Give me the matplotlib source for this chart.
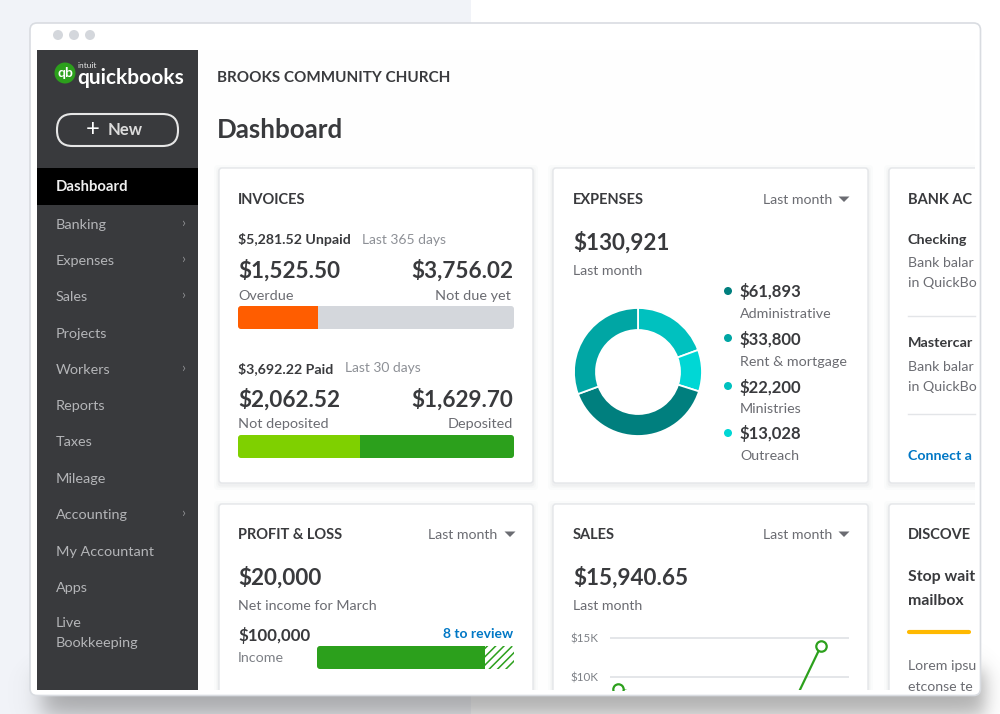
import numpy as np
import matplotlib
matplotlib.use("Agg")
import matplotlib.pyplot as plt
from matplotlib.patches import FancyBboxPatch, Rectangle, Circle, Polygon

plt.rcParams['font.family'] = ['Lato', 'DejaVu Sans']
plt.rcParams['hatch.linewidth'] = 1.1

# ---- data ----
nav_items = ["Banking", "Expenses", "Sales", "Projects", "Workers", "Reports", "Taxes",
             "Mileage", "Accounting", "My Accountant", "Apps"]
nav_with_arrow = ["Banking", "Expenses", "Sales", "Workers", "Accounting"]

unpaid_labels = ["Overdue", "Not due yet"]
unpaid_values = [1525.50, 3756.02]
paid_labels = ["Not deposited", "Deposited"]
paid_values = [2062.52, 1629.70]
paid_bar_values = [1629.70, 2062.52]      # the picture draws the light segment as the shorter one

expense_labels = ["Administrative", "Rent & mortgage", "Ministries", "Outreach"]
expense_values = ["$61,893", "$33,800", "$22,200", "$13,028"]
# slice shares as drawn, clockwise from 12 o'clock: Ministries, Outreach, Administrative, Rent
donut_shares = [19.4, 10.5, 39.5, 30.6]

income_reviewed = 85.5
income_to_review = 14.5

sales_days = [1, 23, 28.6]
sales_values_k = [8.5, 3.0, 14.0]
sales_ticks_k = [10, 15]
sales_tick_labels = ["$10K", "$15K"]

# ---- colours ----
INK = "#393a3d"
SOFT = "#6b6c72"
TEAL = ["#00c1bf", "#00d7d5", "#007f7e", "#00a6a4"]
LEGEND_TEAL = ["#007f7e", "#00a6a4", "#00c1bf", "#00d7d5"]
GREEN = "#2ca01c"
LIME = "#7fd000"
ORANGE = "#ff5d00"
GREY = "#d4d7dc"
BLUE = "#0077c5"

W, H = 1000, 714
fig = plt.figure(figsize=(10, 7.14), dpi=100, facecolor="white")
bg = fig.add_axes([0, 0, 1, 1])
bg.set_xlim(0, W)
bg.set_ylim(H, 0)
bg.axis("off")


def px_axes(x0, y0, x1, y1, **kw):
    return fig.add_axes([x0 / W, 1 - y1 / H, (x1 - x0) / W, (y1 - y0) / H], **kw)


def T(x, y, s, size=10.4, color=SOFT, weight="normal", ha="left", z=6, **kw):
    return bg.text(x, y + 3, s, fontsize=size, color=color, fontweight=weight, ha=ha,
                   va="center", zorder=z, **kw)


def rbox(x0, y0, x1, y1, r=3, fc="white", ec="none", lw=0, z=2, alpha=None, add=True):
    p = FancyBboxPatch((x0 + r, y0 + r), x1 - x0 - 2 * r, y1 - y0 - 2 * r,
                       boxstyle=f"round,pad={r},rounding_size={r}", fc=fc, ec=ec, lw=lw,
                       zorder=z, alpha=alpha, transform=bg.transData)
    if add:
        bg.add_patch(p)
    return p


# page background and window shadow
bg.add_patch(Rectangle((0, 0), 471, H, fc="#f1f3f8", ec="none", zorder=0))
xx, yy = np.meshgrid(np.arange(W) + .5, np.arange(H) + .5)
sx = .5 * (np.tanh((xx - 42) / 14) - np.tanh((xx - 985) / 11))
sy = .5 * (np.tanh((yy - 670) / 12) - np.tanh((yy - 716) / 14))
shadow = np.zeros((H, W, 4))
shadow[..., :3] = .42
shadow[..., 3] = .55 * sx * sy
bg.imshow(shadow, extent=(0, W, H, 0), zorder=1, aspect="auto", interpolation="bilinear")
bg.set_xlim(0, W)
bg.set_ylim(H, 0)

# browser window
rbox(30, 23, 980.5, 695.5, r=7, fc="white", ec="#d9dce1", lw=1.2, z=2)
for cx in (58, 74, 90):
    bg.add_patch(Circle((cx, 35), 5, fc="#d4d7dc", ec="none", zorder=3))
content = Rectangle((198, 50), 777, 640, fc="#fefefe", ec="none", zorder=2.5)
bg.add_patch(content)

# sidebar
bg.add_patch(Rectangle((37, 50), 161, 640, fc=INK, ec="none", zorder=3))
bg.add_patch(Rectangle((37, 168), 161, 37, fc="black", ec="none", zorder=4))
bg.add_patch(Circle((65, 73), 10.5, fc=GREEN, ec="none", zorder=5))
T(65, 70, "qb", 10, "white", "bold", ha="center")
T(78, 62, "intuit", 6, "#e8e8e8")
T(77, 75, "quickbooks", 15, "white", "bold")
rbox(57, 114, 178, 146, r=15.5, fc="none", ec="#e6e6e6", lw=1.5, z=5)
T(93, 126.5, "+", 17, "white", ha="center")
T(108, 127, "New", 12, "#dcdcdc", "bold")
T(56, 184, "Dashboard", 10.7, "#f0f0f0", "bold")
nav_y = [222, 258, 294, 331, 367, 403, 439, 476, 512, 549, 585]
for label, y in zip(nav_items, nav_y):
    T(56, y, label, 10.4, "#b4b5b8")
    if label in nav_with_arrow:
        T(183, y - 2, "›", 10, "#8d8e91", ha="center")
T(56, 620, "Live", 10.4, "#b4b5b8")
T(56, 640, "Bookkeeping", 10.4, "#b4b5b8")

# header
T(217, 75, "BROOKS COMMUNITY CHURCH", 11, INK, "bold")
T(217, 127, "Dashboard", 18.6, INK, "bold")

# cards, cut off where the content area ends
for x0, x1, y0, y1 in [(219, 533, 168, 483), (553, 868, 168, 483), (889, 1000, 168, 483),
                       (219, 533, 504, 730), (553, 868, 504, 730), (889, 1000, 504, 730)]:
    for grow, alpha in [(5, .025), (3, .03), (1.5, .05)]:
        s = rbox(x0 - grow, y0 - grow + 2, x1 + grow, y1 + grow + 2, r=4, fc="#7b7f88", z=2.7, alpha=alpha)
        s.set_clip_path(content)
    card = rbox(x0, y0, x1, y1, r=3, fc="white", ec="#e4e6e9", lw=1, z=3)
    card.set_clip_path(content)


def dropdown(right, tri, y):
    T(right, y - 2, "Last month", 10.2, SOFT, ha="right")
    bg.add_patch(Polygon([(tri - 5.5, y - 2.5), (tri + 5.5, y - 2.5), (tri, y + 3)],
                         closed=True, fc="#6b6c72", ec="none", zorder=6))


# invoices
T(238, 197, "INVOICES", 10.5, INK, "bold")
T(238, 236.5, "$5,281.52 Unpaid", 10.2, INK, "bold")
T(362, 236.5, "Last 365 days", 10, "#8d9096")
T(238, 268, "$1,525.50", 16.2, INK, "bold")
T(513, 268, "$3,756.02", 16.2, INK, "bold", ha="right")
T(238, 293, unpaid_labels[0], 10.4, SOFT)
T(511, 293, unpaid_labels[1], 10.4, SOFT, ha="right")
T(238, 365.5, "$3,692.22 Paid", 10.2, INK, "bold")
T(345, 365.5, "Last 30 days", 10, "#8d9096")
T(238, 397, "$2,062.52", 16.2, INK, "bold")
T(513, 397, "$1,629.70", 16.2, INK, "bold", ha="right")
T(238, 421, paid_labels[0], 10.4, SOFT)
T(513, 421, paid_labels[1], 10.4, SOFT, ha="right")


def stacked(x0, y0, x1, y1, values, colors, hatches=None):
    ax = px_axes(x0, y0, x1, y1)
    ax.set_xlim(0, sum(values))
    ax.set_ylim(0, 1)
    ax.axis("off")
    left = 0
    clip = rbox(x0, y0, x1, y1, r=3, fc="none", add=False)
    for i, (v, c) in enumerate(zip(values, colors)):
        if hatches and hatches[i]:
            b = ax.barh(.5, v, left=left, height=1, facecolor="white", edgecolor=c, hatch=hatches[i], lw=0)
        else:
            b = ax.barh(.5, v, left=left, height=1, color=c, lw=0)
        b[0].set_clip_path(clip)
        left += v
    return ax


stacked(238, 306, 514, 329, unpaid_values, [ORANGE, GREY])
stacked(238, 435, 514, 458, paid_bar_values, [LIME, GREEN])

# expenses
T(573, 197, "EXPENSES", 10.5, INK, "bold")
dropdown(832, 844, 199)
T(573, 240, "$130,921", 16.2, INK, "bold")
T(573, 268, "Last month", 10.2, SOFT)
ax_d = px_axes(569, 303, 707, 441)
ax_d.pie(donut_shares, colors=TEAL, startangle=90, counterclock=False, radius=64 / 69,
         wedgeprops=dict(width=22 / 69, edgecolor="white", linewidth=1.3))
ax_d.set_xlim(-1, 1)
ax_d.set_ylim(-1, 1)
for y_v, y_l, val, lab, c in zip([291, 338, 386, 433], [311, 359, 406, 453],
                                 expense_values, expense_labels, LEGEND_TEAL):
    bg.add_patch(Circle((728, y_v), 4, fc=c, ec="none", zorder=6))
    T(740, y_v - 2, val, 12, INK, "bold")
    T(740, y_l, lab, 10.3, SOFT)

# bank accounts (the card is cut off by the window in the picture)
T(908, 197, "BANK AC", 10.5, INK, "bold")
T(908, 237, "Checking", 10.4, INK, "bold")
T(908, 260, "Bank balar", 10.2, SOFT)
T(908, 280, "in QuickBo", 10.2, SOFT)
bg.plot([908, 975], [316, 316], color="#e3e5e8", lw=1, zorder=5)
T(908, 340, "Mastercar", 10.4, INK, "bold")
T(908, 364, "Bank balar", 10.2, SOFT)
T(908, 384, "in QuickBo", 10.2, SOFT)
bg.plot([908, 975], [414, 414], color="#e3e5e8", lw=1, zorder=5)
T(908, 453, "Connect a", 10.2, BLUE, "bold")

# profit & loss
T(238, 532, "PROFIT & LOSS", 10.5, INK, "bold")
dropdown(497, 510, 534)
T(238, 575, "$20,000", 16.2, INK, "bold")
T(238, 603, "Net income for March", 10.3, SOFT)
T(238, 632, "$100,000", 12.2, INK, "bold")
T(513, 631, "8 to review", 10, BLUE, "bold", ha="right")
T(238, 655, "Income", 10.3, "#7d8086")
stacked(317, 646, 514, 669, [income_reviewed, income_to_review], [GREEN, GREEN], [None, "////"])

# sales
T(573, 532, "SALES", 10.5, INK, "bold")
dropdown(832, 844, 534)
T(573, 575, "$15,940.65", 16.2, INK, "bold")
T(573, 603, "Last month", 10.2, SOFT)
ax_s = px_axes(610, 628, 849, 690)
ax_s.set_xlim(-0.1, 32.4)
ax_s.set_ylim(10 - 13 / 39 * 5, 15 + 10 / 39 * 5)
ax_s.patch.set_alpha(0)
ax_s.set_yticks(sales_ticks_k)
ax_s.set_yticklabels(sales_tick_labels, fontsize=8.4, color="#7d8086")
ax_s.set_xticks([])
ax_s.tick_params(axis="y", length=0, pad=8)
ax_s.grid(axis="y", color="#dfe1e5", lw=1.2)
ax_s.set_axisbelow(True)
for s in ax_s.spines.values():
    s.set_visible(False)
ax_s.plot(sales_days, sales_values_k, color=GREEN, lw=1.6, marker="o", ms=7.5,
          mfc="white", mec=GREEN, mew=1.6)

# discover
T(908, 532, "DISCOVE", 10.5, INK, "bold")
T(908, 574, "Stop wait", 11.4, INK, "bold")
T(908, 598, "mailbox", 11.4, INK, "bold")
bg.plot([909, 969], [632, 632], color="#ffb900", lw=3, solid_capstyle="round", zorder=5)
T(908, 663, "Lorem ipsu", 10.2, SOFT)
T(908, 684, "etconse te", 10.2, SOFT)

fig.savefig("out.png", dpi=100, facecolor="white")
